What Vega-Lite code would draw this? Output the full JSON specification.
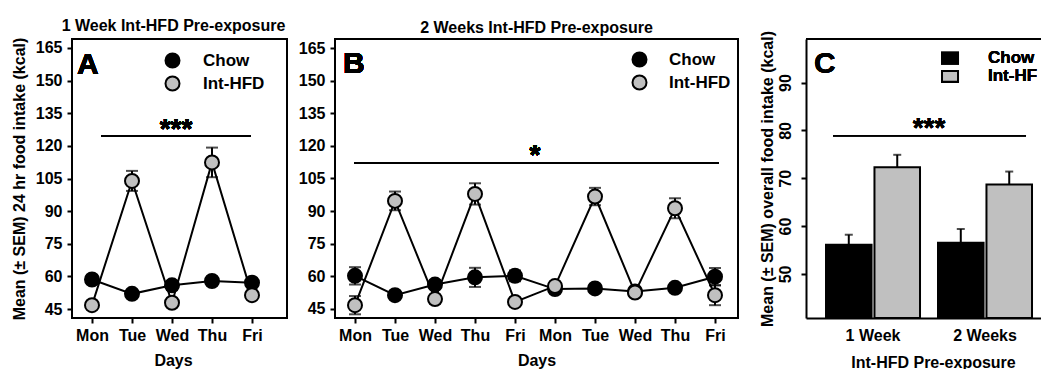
{
  "$schema": "https://vega.github.io/schema/vega-lite/v6.json",
  "background": "white",
  "padding": {"left": 10, "top": 17, "right": 0, "bottom": 0},
  "datasets": {
    "week1": [
      {"d": 1, "day": "Mon", "group": "Chow", "mean": 58.6, "sem": 2.0},
      {"d": 2, "day": "Tue", "group": "Chow", "mean": 52.0, "sem": 1.5},
      {"d": 3, "day": "Wed", "group": "Chow", "mean": 55.9, "sem": 2.0},
      {"d": 4, "day": "Thu", "group": "Chow", "mean": 57.9, "sem": 1.8},
      {"d": 5, "day": "Fri", "group": "Chow", "mean": 57.1, "sem": 1.8},
      {"d": 1, "day": "Mon", "group": "Int-HFD", "mean": 46.8, "sem": 1.5},
      {"d": 2, "day": "Tue", "group": "Int-HFD", "mean": 103.9, "sem": 4.6},
      {"d": 3, "day": "Wed", "group": "Int-HFD", "mean": 47.9, "sem": 1.5},
      {"d": 4, "day": "Thu", "group": "Int-HFD", "mean": 112.4, "sem": 6.8},
      {"d": 5, "day": "Fri", "group": "Int-HFD", "mean": 51.4, "sem": 1.5}
    ],
    "week2": [
      {"d": 1, "day": "Mon", "group": "Chow", "mean": 60.2, "sem": 4.0},
      {"d": 2, "day": "Tue", "group": "Chow", "mean": 51.3, "sem": 1.5},
      {"d": 3, "day": "Wed", "group": "Chow", "mean": 56.2, "sem": 2.0},
      {"d": 4, "day": "Thu", "group": "Chow", "mean": 59.5, "sem": 4.4},
      {"d": 5, "day": "Fri", "group": "Chow", "mean": 60.2, "sem": 2.5},
      {"d": 6, "day": "Mon", "group": "Chow", "mean": 54.1, "sem": 1.5},
      {"d": 7, "day": "Tue", "group": "Chow", "mean": 54.4, "sem": 1.5},
      {"d": 8, "day": "Wed", "group": "Chow", "mean": 53.0, "sem": 1.5},
      {"d": 9, "day": "Thu", "group": "Chow", "mean": 54.7, "sem": 1.5},
      {"d": 10, "day": "Fri", "group": "Chow", "mean": 59.8, "sem": 4.0},
      {"d": 1, "day": "Mon", "group": "Int-HFD", "mean": 46.7, "sem": 4.2},
      {"d": 2, "day": "Tue", "group": "Int-HFD", "mean": 94.7, "sem": 4.3},
      {"d": 3, "day": "Wed", "group": "Int-HFD", "mean": 49.5, "sem": 2.0},
      {"d": 4, "day": "Thu", "group": "Int-HFD", "mean": 97.9, "sem": 4.9},
      {"d": 5, "day": "Fri", "group": "Int-HFD", "mean": 48.2, "sem": 1.5},
      {"d": 6, "day": "Mon", "group": "Int-HFD", "mean": 55.5, "sem": 2.0},
      {"d": 7, "day": "Tue", "group": "Int-HFD", "mean": 96.7, "sem": 4.0},
      {"d": 8, "day": "Wed", "group": "Int-HFD", "mean": 52.5, "sem": 2.0},
      {"d": 9, "day": "Thu", "group": "Int-HFD", "mean": 91.3, "sem": 4.6},
      {"d": 10, "day": "Fri", "group": "Int-HFD", "mean": 51.3, "sem": 4.6}
    ],
    "overall": [
      {"period": "1 Week", "group": "Chow", "mean": 56.1, "sem": 2.1},
      {"period": "1 Week", "group": "Int-HFD", "mean": 72.3, "sem": 2.6},
      {"period": "2 Weeks", "group": "Chow", "mean": 56.5, "sem": 2.9},
      {"period": "2 Weeks", "group": "Int-HFD", "mean": 68.7, "sem": 2.7}
    ]
  },
  "config": {
    "font": "Liberation Sans",
    "view": {"stroke": "black", "strokeWidth": 2},
    "axis": {
      "grid": false, "domain": false,
      "labelFont": "Liberation Sans", "labelFontSize": 16, "labelFontWeight": "bold", "labelColor": "black",
      "titleFont": "Liberation Sans", "titleFontSize": 16, "titleFontWeight": "bold", "titleColor": "black",
      "tickColor": "black", "tickWidth": 2, "tickSize": 5, "labelPadding": 5,
      "domainColor": "black", "domainWidth": 2, "labelFlush": false, "labelOverlap": false
    },
    "title": {"font": "Liberation Sans", "fontSize": 16, "fontWeight": "bold", "color": "black", "offset": 3, "anchor": "middle", "frame": "group"},
    "text": {"font": "Liberation Sans", "fontWeight": "bold", "color": "black"}
  },
  "hconcat": [
    {
      "spacing": 9,
      "resolve": {"scale": {"fill": "independent"}, "legend": {"fill": "independent"}},
      "hconcat": [
        {
          "width": 215, "height": 279,
          "title": {"text": "1 Week Int-HFD Pre-exposure", "dx": -6, "frame": "group"},
          "data": {"name": "week1"},
          "encoding": {
            "x": {"field": "d", "type": "quantitative", "scale": {"domain": [0.5, 5.875], "nice": false, "zero": false},
                  "axis": {"values": [1, 2, 3, 4, 5], "labelExpr": "['Mon','Tue','Wed','Thu','Fri'][(datum.value - 1) % 5]", "title": "Days", "labelPadding": 4, "titlePadding": 9, "titleX": 101}},
            "y": {"field": "mean", "type": "quantitative", "scale": {"domain": [40.9, 169.1], "nice": false, "zero": false},
                  "axis": {"values": [45, 60, 75, 90, 105, 120, 135, 150, 165], "title": "Mean (± SEM) 24 hr food intake (kcal)", "titlePadding": 8}}
          },
          "layer": [
            {
              "mark": {"type": "line", "color": "black", "strokeWidth": 2},
              "encoding": {"detail": {"field": "group"}}
            },
            {
              "mark": {"type": "errorbar", "ticks": true, "size": 12, "thickness": 2, "color": "black"},
              "encoding": {"yError": {"field": "sem"}}
            },
            {
              "mark": {"type": "point", "shape": "circle", "filled": true, "size": 196, "stroke": "black", "strokeWidth": 2, "opacity": 1},
              "encoding": {
                "fill": {"field": "group", "type": "nominal", "scale": {"domain": ["Chow", "Int-HFD"], "range": ["black", "#c0c0c0"]},
                         "legend": {"title": null, "orient": "none", "legendX": 92, "legendY": 13, "padding": 0, "symbolType": "circle", "symbolSize": 196, "symbolStrokeColor": "black", "symbolStrokeWidth": 2, "symbolOpacity": 1, "labelFont": "Liberation Sans", "labelFontSize": 17, "labelFontWeight": "bold", "labelColor": "black", "labelOffset": 22, "rowPadding": 0}}
              }
            },
            {
              "mark": {"type": "rule", "strokeWidth": 1.5, "color": "black"},
              "encoding": {"x": {"datum": 1.225}, "x2": {"datum": 4.975}, "y": {"datum": 124.5}}
            },
            {
              "mark": {"type": "text", "text": "***", "fontSize": 28, "align": "center", "baseline": "alphabetic"},
              "encoding": {"x": {"datum": 3.1}, "y": {"datum": 123.5}}
            },
            {
              "mark": {"type": "text", "text": "A", "fontSize": 30, "align": "left", "baseline": "alphabetic"},
              "encoding": {"x": {"datum": 0.625}, "y": {"datum": 153.0}}
            }
          ]
        },
        {
          "width": 403, "height": 279,
          "title": {"text": "2 Weeks Int-HFD Pre-exposure", "frame": "group"},
          "data": {"name": "week2"},
          "encoding": {
            "x": {"field": "d", "type": "quantitative", "scale": {"domain": [0.5, 10.575], "nice": false, "zero": false},
                  "axis": {"values": [1, 2, 3, 4, 5, 6, 7, 8, 9, 10], "labelExpr": "['Mon','Tue','Wed','Thu','Fri'][(datum.value - 1) % 5]", "title": "Days", "labelPadding": 4, "titlePadding": 9}},
            "y": {"field": "mean", "type": "quantitative", "scale": {"domain": [40.8, 169.2], "nice": false, "zero": false},
                  "axis": {"values": [45, 60, 75, 90, 105, 120, 135, 150, 165], "title": null}}
          },
          "layer": [
            {
              "mark": {"type": "line", "color": "black", "strokeWidth": 2},
              "encoding": {"detail": {"field": "group"}}
            },
            {
              "mark": {"type": "errorbar", "ticks": true, "size": 12, "thickness": 2, "color": "black"},
              "encoding": {"yError": {"field": "sem"}}
            },
            {
              "mark": {"type": "point", "shape": "circle", "filled": true, "size": 196, "stroke": "black", "strokeWidth": 2, "opacity": 1},
              "encoding": {
                "fill": {"field": "group", "type": "nominal", "scale": {"domain": ["Chow", "Int-HFD"], "range": ["black", "#c0c0c0"]},
                         "legend": {"title": null, "orient": "none", "legendX": 296, "legendY": 12, "padding": 0, "symbolType": "circle", "symbolSize": 196, "symbolStrokeColor": "black", "symbolStrokeWidth": 2, "symbolOpacity": 1, "labelFont": "Liberation Sans", "labelFontSize": 17, "labelFontWeight": "bold", "labelColor": "black", "labelOffset": 21, "rowPadding": 0}}
              }
            },
            {
              "mark": {"type": "rule", "strokeWidth": 1.5, "color": "black"},
              "encoding": {"x": {"datum": 0.975}, "x2": {"datum": 10.09}, "y": {"datum": 112.1}}
            },
            {
              "mark": {"type": "text", "text": "*", "fontSize": 28, "align": "center", "baseline": "alphabetic"},
              "encoding": {"x": {"datum": 5.5}, "y": {"datum": 111.9}}
            },
            {
              "mark": {"type": "text", "text": "B", "fontSize": 30, "align": "left", "baseline": "alphabetic"},
              "encoding": {"x": {"datum": 0.7}, "y": {"datum": 153.5}}
            }
          ]
        }
      ]
    },
    {
      "width": 235, "height": 279,
      "view": {"stroke": null},
      "data": {"name": "overall"},
      "encoding": {
        "x": {"field": "period", "type": "nominal", "sort": null,
              "scale": {"domain": ["1 Week", "2 Weeks"], "paddingInner": 0.1607, "paddingOuter": 0.1295, "align": 0.69, "round": false},
              "axis": {"labelAngle": 0, "ticks": false, "domain": true, "labelPadding": 9, "title": "Int-HFD Pre-exposure", "titlePadding": 11, "titleX": 127}},
        "y": {"field": "mean", "type": "quantitative", "scale": {"domain": [40.8, 99.1], "nice": false, "zero": false},
              "axis": {"values": [50, 60, 70, 80, 90], "domain": true, "labelAngle": 270, "labelAlign": "center", "labelBaseline": "bottom", "labelPadding": 8, "title": "Mean (± SEM) overall food intake (kcal)", "titlePadding": 2}}
      },
      "layer": [
        {
          "mark": {"type": "errorbar", "ticks": true, "size": 8, "thickness": 2, "color": "black"},
          "encoding": {
            "xOffset": {"field": "group", "type": "nominal", "scale": {"domain": ["Chow", "Int-HFD"], "paddingInner": 0.06, "paddingOuter": 0}},
            "yError": {"field": "sem"}
          }
        },
        {
          "mark": {"type": "bar", "stroke": "black", "strokeWidth": 2, "opacity": 1},
          "encoding": {
            "xOffset": {"field": "group", "type": "nominal"},
            "y2": {"datum": 40.8},
            "fill": {"field": "group", "type": "nominal", "scale": {"domain": ["Chow", "Int-HFD"], "range": ["black", "#c0c0c0"]}, "legend": null}
          }
        },
        {
          "mark": {"type": "rule", "strokeWidth": 2, "color": "black"},
          "encoding": {"x": null, "y": {"datum": 99.1}}
        },
        {
          "mark": {"type": "rule", "strokeWidth": 1.5, "color": "black", "xOffset": -40, "x2Offset": 41},
          "encoding": {"x": {"datum": "1 Week"}, "x2": {"datum": "2 Weeks"}, "y": {"datum": 78.9}}
        },
        {
          "mark": {"type": "text", "text": "***", "fontSize": 28, "align": "center", "baseline": "alphabetic", "dx": 56},
          "encoding": {"x": {"datum": "1 Week"}, "y": {"datum": 78.6}}
        },
        {
          "mark": {"type": "text", "text": "C", "fontSize": 30, "align": "left", "baseline": "alphabetic", "dx": -59},
          "encoding": {"x": {"datum": "1 Week"}, "y": {"datum": 91.9}}
        },
        {
          "mark": {"type": "point", "shape": "M-1,-0.68H1V0.68H-1Z", "filled": true, "fill": "black", "stroke": "black", "strokeWidth": 2, "size": 256, "opacity": 1, "xOffset": -35},
          "encoding": {"x": {"datum": "2 Weeks"}, "y": {"datum": 95.1}}
        },
        {
          "mark": {"type": "point", "shape": "M-1,-0.68H1V0.68H-1Z", "filled": true, "fill": "#c0c0c0", "stroke": "black", "strokeWidth": 2, "size": 256, "opacity": 1, "xOffset": -35},
          "encoding": {"x": {"datum": "2 Weeks"}, "y": {"datum": 91.3}}
        },
        {
          "mark": {"type": "text", "text": "Chow", "fontSize": 17, "align": "left", "baseline": "middle", "dx": 3, "limit": 53, "ellipsis": "\u200b"},
          "encoding": {"x": {"datum": "2 Weeks"}, "y": {"datum": 95.1}}
        },
        {
          "mark": {"type": "text", "text": "Int-HFD", "fontSize": 17, "align": "left", "baseline": "middle", "dx": 3, "limit": 53, "ellipsis": "\u200b"},
          "encoding": {"x": {"datum": "2 Weeks"}, "y": {"datum": 91.3}}
        }
      ]
    }
  ],
  "spacing": 19,
  "resolve": {"scale": {"fill": "independent"}, "legend": {"fill": "independent"}}
}
